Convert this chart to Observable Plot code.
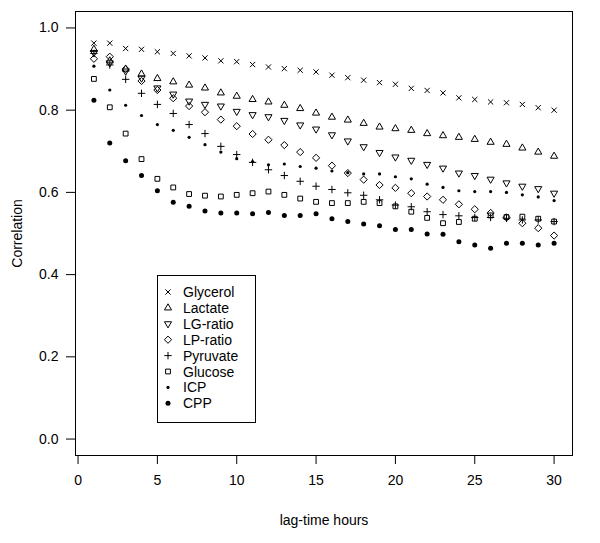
<!DOCTYPE html>
<html><head><meta charset="utf-8">
<script src="https://cdn.jsdelivr.net/npm/d3@7"></script>
<script src="https://cdn.jsdelivr.net/npm/@observablehq/plot@0.6"></script>
<style>
body{margin:0;background:#fff;}
#wrap{position:relative;width:600px;height:543px;font-family:"Liberation Sans",Arial,sans-serif;}
#legend{position:absolute;left:157px;top:275px;}
</style></head><body><div id="wrap"></div>
<script>
const lagHours = [1,2,3,4,5,6,7,8,9,10,11,12,13,14,15,16,17,18,19,20,21,22,23,24,25,26,27,28,29,30];
const glycerol = [0.963,0.963,0.950,0.948,0.942,0.938,0.932,0.927,0.920,0.918,0.911,0.905,0.901,0.897,0.893,0.885,0.879,0.873,0.867,0.863,0.853,0.848,0.842,0.830,0.826,0.820,0.818,0.814,0.806,0.800];
const lactate = [0.948,0.920,0.900,0.888,0.877,0.869,0.861,0.854,0.842,0.834,0.826,0.820,0.812,0.804,0.793,0.783,0.776,0.768,0.759,0.755,0.751,0.743,0.738,0.734,0.729,0.722,0.717,0.708,0.698,0.688];
const lgRatio = [0.940,0.915,0.895,0.878,0.854,0.839,0.822,0.814,0.810,0.797,0.789,0.784,0.775,0.764,0.754,0.740,0.725,0.711,0.697,0.686,0.678,0.668,0.659,0.647,0.641,0.632,0.623,0.615,0.609,0.598];
const lpRatio = [0.925,0.930,0.900,0.871,0.849,0.829,0.810,0.795,0.777,0.761,0.742,0.728,0.715,0.698,0.684,0.665,0.647,0.631,0.618,0.611,0.598,0.590,0.582,0.571,0.559,0.550,0.539,0.525,0.513,0.495];
const pyruvate = [0.938,0.910,0.875,0.841,0.814,0.792,0.765,0.743,0.712,0.692,0.673,0.655,0.641,0.627,0.615,0.607,0.599,0.593,0.582,0.569,0.565,0.553,0.546,0.543,0.539,0.539,0.537,0.533,0.533,0.529];
const glucose = [0.876,0.807,0.743,0.681,0.633,0.612,0.596,0.592,0.590,0.594,0.598,0.602,0.594,0.585,0.577,0.574,0.574,0.577,0.574,0.566,0.553,0.538,0.525,0.528,0.536,0.544,0.540,0.541,0.536,0.529];
const icp = [0.907,0.849,0.812,0.787,0.765,0.751,0.734,0.716,0.698,0.682,0.675,0.667,0.669,0.663,0.659,0.652,0.648,0.645,0.645,0.638,0.633,0.620,0.612,0.604,0.602,0.602,0.600,0.594,0.589,0.580];
const cpp = [0.824,0.720,0.677,0.641,0.604,0.576,0.566,0.555,0.550,0.550,0.548,0.551,0.544,0.544,0.548,0.536,0.529,0.523,0.519,0.510,0.510,0.499,0.498,0.480,0.472,0.464,0.476,0.476,0.472,0.476];
const seriesNames = ["Glycerol","Lactate","LG-ratio","LP-ratio","Pyruvate","Glucose","ICP","CPP"];
const xTicks = [0,5,10,15,20,25,30];
const yTicks = [0,0.2,0.4,0.6,0.8,1.0];

// R-like plotting symbols
const symTimes = {draw(c){const h=2.6;c.moveTo(-h,-h);c.lineTo(h,h);c.moveTo(-h,h);c.lineTo(h,-h);}};
const symTriUp = {draw(c){const r=4.1,xc=r*0.866;c.moveTo(0,-r);c.lineTo(xc,r/2);c.lineTo(-xc,r/2);c.closePath();}};
const symTriDown = {draw(c){const r=4.1,xc=r*0.866;c.moveTo(0,r);c.lineTo(xc,-r/2);c.lineTo(-xc,-r/2);c.closePath();}};
const symDiamond = {draw(c){const h=3.6;c.moveTo(0,-h);c.lineTo(h,0);c.lineTo(0,h);c.lineTo(-h,0);c.closePath();}};
const symPlus = {draw(c){const h=3.7;c.moveTo(-h,0);c.lineTo(h,0);c.moveTo(0,-h);c.lineTo(0,h);}};
const symSquare = {draw(c){const h=2.4;c.rect(-h,-h,2*h,2*h);}};
const symBullet = {draw(c){const r=1.6;c.moveTo(r,0);c.arc(0,0,r,0,2*Math.PI);}};
const symDot = {draw(c){const r=2.5;c.moveTo(r,0);c.arc(0,0,r,0,2*Math.PI);}};

const seriesValues = [glycerol, lactate, lgRatio, lpRatio, pyruvate, glucose, icp, cpp];
const seriesSymbols = [symTimes, symTriUp, symTriDown, symDiamond, symPlus, symSquare, symBullet, symDot];
const seriesFilled = [false,false,false,false,false,false,true,true];

const dotMarks = seriesValues.map((vals, i) => {
  const rows = lagHours.map((h, j) => ({hour: h, corr: vals[j]}));
  return Plot.dot(rows, {
    x: "hour", y: "corr", r: 3, symbol: seriesSymbols[i],
    fill: seriesFilled[i] ? "black" : "none",
    stroke: seriesFilled[i] ? "none" : "black",
    strokeWidth: 1
  });
});

const chart = Plot.plot({
  width: 600, height: 543,
  marginLeft: 75, marginRight: 28, marginTop: 11, marginBottom: 88,
  style: {fontFamily: '"Liberation Sans", Arial, sans-serif', fontSize: "14px", color: "black", background: "white"},
  x: {domain: [-0.16, 31.16]},
  y: {domain: [-0.04, 1.04]},
  marks: [
    Plot.frame({stroke: "black", strokeWidth: 1}),
    Plot.axisX({ticks: xTicks, tickSize: 9, tickPadding: 11, tickFormat: d => String(d),
      label: "lag-time hours", labelAnchor: "center", labelArrow: "none", labelOffset: 69}),
    Plot.axisY({ticks: yTicks, tickSize: 9, tickPadding: 8, tickFormat: d3.format(".1f"),
      label: "Correlation", labelAnchor: "center", labelArrow: "none", labelOffset: 63}),
    ...dotMarks
  ]
});
const wrap = document.getElementById("wrap");
wrap.appendChild(chart);

// legend box
const lg = d3.select(wrap).append("svg").attr("id","legend").attr("width",99).attr("height",148);
lg.append("rect").attr("x",0.5).attr("y",0.5).attr("width",98).attr("height",147).attr("fill","white").attr("stroke","black");
seriesNames.forEach((name, i) => {
  const cy = 17 + i*15.9;
  lg.append("path").attr("transform",`translate(11,${cy})`)
    .attr("d", d3.symbol().type(seriesSymbols[i])())
    .attr("fill", seriesFilled[i] ? "black" : "none")
    .attr("stroke", seriesFilled[i] ? "none" : "black");
  lg.append("text").attr("x",26).attr("y",cy).attr("dy","0.36em")
    .attr("font-size",14).attr("font-family",'"Liberation Sans", Arial, sans-serif').text(name);
});
</script></body></html>
